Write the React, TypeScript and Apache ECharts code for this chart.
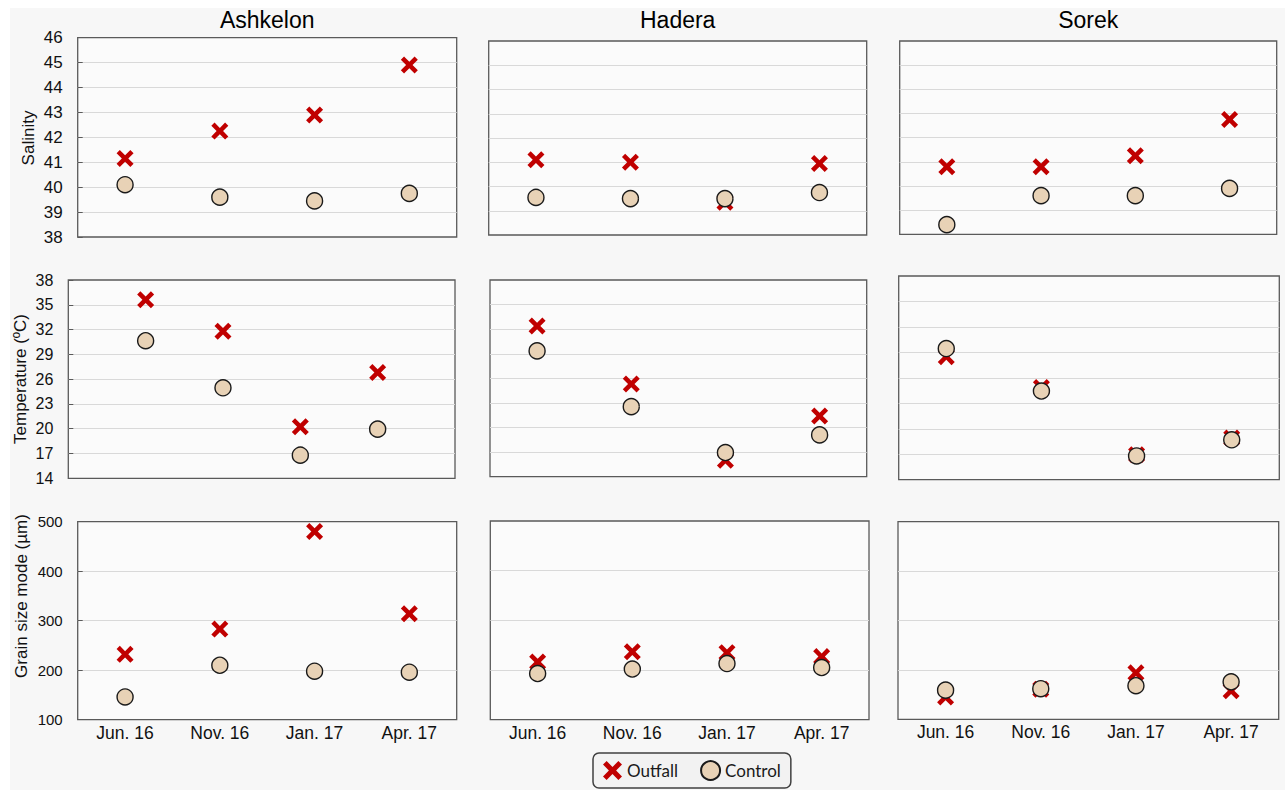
import React, { useEffect, useRef } from 'react';
import * as echarts from 'echarts';

// Sampling campaigns and sites
const categories = ['Jun. 16', 'Nov. 16', 'Jan. 17', 'Apr. 17'];
const sites = ['Ashkelon', 'Hadera', 'Sorek'];

// Salinity
const ashkelonSalinityOutfall = [41.15, 42.25, 42.9, 44.9];
const ashkelonSalinityControl = [40.1, 39.6, 39.45, 39.75];
const haderaSalinityOutfall = [41.1, 41.0, 39.35, 40.95];
const haderaSalinityControl = [39.55, 39.5, 39.5, 39.75];
const sorekSalinityOutfall = [40.8, 40.8, 41.25, 42.75];
const sorekSalinityControl = [38.4, 39.6, 39.6, 39.9];

// Temperature (ºC)
const ashkelonTempOutfall = [35.6, 31.8, 20.25, 26.8];
const ashkelonTempControl = [30.65, 24.95, 16.8, 19.95];
const haderaTempOutfall = [32.4, 25.3, 16.0, 21.4];
const haderaTempControl = [29.35, 22.55, 16.95, 19.1];
const sorekTempOutfall = [28.5, 24.85, 16.95, 18.9];
const sorekTempControl = [29.45, 24.45, 16.8, 18.7];

// Grain size mode (µm)
const ashkelonGrainOutfall = [232, 283, 480, 314];
const ashkelonGrainControl = [146, 210, 198, 196];
const haderaGrainOutfall = [216, 237, 235, 227];
const haderaGrainControl = [193, 202, 213, 205];
const sorekGrainOutfall = [145, 161, 194, 158];
const sorekGrainControl = [159, 162, 168, 176];

// Tick labels
const temperatureTicks = [14, 17, 20, 23, 26, 29, 32, 35, 38];

const FONT = 'Liberation Sans, Arial, sans-serif';
const CROSS =
  'path://M0,1.9L1.9,0L5,3.1L8.1,0L10,1.9L6.9,5L10,8.1L8.1,10L5,6.9L1.9,10L0,8.1L3.1,5Z';

type Row = {
  name: string;
  nameX: number;
  nameY: number;
  min: number;
  max: number;
  interval?: number;
  customTicks?: number[];
  labelSize: number;
  outfall: number[][];
  control: number[][];
  boxes: number[][];
};

const rows: Row[] = [
  {
    name: 'Salinity',
    nameX: 28,
    nameY: 138,
    min: 38,
    max: 46,
    interval: 1,
    labelSize: 17,
    outfall: [ashkelonSalinityOutfall, haderaSalinityOutfall, sorekSalinityOutfall],
    control: [ashkelonSalinityControl, haderaSalinityControl, sorekSalinityControl],
    boxes: [
      [77.7, 37.7, 379, 199.3],
      [488.7, 41, 378, 194],
      [899.7, 41, 377, 193.3],
    ],
  },
  {
    name: 'Temperature (ºC)',
    nameX: 20,
    nameY: 379,
    min: 14,
    max: 38,
    customTicks: temperatureTicks,
    labelSize: 16,
    outfall: [ashkelonTempOutfall, haderaTempOutfall, sorekTempOutfall],
    control: [ashkelonTempControl, haderaTempControl, sorekTempControl],
    boxes: [
      [68.3, 280, 386.7, 198.3],
      [490, 280, 376.7, 196.7],
      [898.7, 276, 380.6, 203.7],
    ],
  },
  {
    name: 'Grain size mode (µm)',
    nameX: 21,
    nameY: 596,
    min: 100,
    max: 500,
    interval: 100,
    labelSize: 15,
    outfall: [ashkelonGrainOutfall, haderaGrainOutfall, sorekGrainOutfall],
    control: [ashkelonGrainControl, haderaGrainControl, sorekGrainControl],
    boxes: [
      [77.7, 521.7, 379, 198],
      [490.3, 521, 378.7, 198.7],
      [898, 521.7, 380.7, 197.6],
    ],
  },
];

function buildOption() {
  const grid: any[] = [];
  const xAxis: any[] = [];
  const yAxis: any[] = [];
  const series: any[] = [];
  const graphic: any[] = [];

  rows.forEach((row, r) => {
    row.boxes.forEach((box, c) => {
      const idx = grid.length;
      grid.push({
        left: box[0],
        top: box[1],
        width: box[2],
        height: box[3],
        show: true,
        backgroundColor: '#fbfbfb',
        borderColor: '#5a5a5a',
        borderWidth: 1.3,
        containLabel: false,
      });

      // The Ashkelon temperature panel spaces its campaigns on a 0–5 scale
      const spreadAxis = r === 1 && c === 0;
      if (spreadAxis) {
        xAxis.push({ type: 'value', gridIndex: idx, min: 0, max: 5, show: false });
      } else {
        xAxis.push({
          type: 'category',
          gridIndex: idx,
          data: categories,
          boundaryGap: true,
          axisLine: { show: false },
          axisTick: { show: false },
          splitLine: { show: false },
          axisLabel: {
            show: r === 2,
            fontSize: 17.5,
            fontFamily: FONT,
            color: '#111',
            margin: 4,
            interval: 0,
          },
        });
      }

      yAxis.push({
        type: 'value',
        gridIndex: idx,
        min: row.min,
        max: row.max,
        ...(row.interval ? { interval: row.interval } : {}),
        axisLine: { show: false },
        axisTick: {
          show: c === 0,
          inside: true,
          length: 5,
          lineStyle: { color: '#5a5a5a', width: 1 },
          ...(row.customTicks ? { customValues: row.customTicks } : {}),
        },
        axisLabel: {
          show: c === 0,
          fontSize: row.labelSize,
          fontFamily: FONT,
          color: '#111',
          margin: 15,
          ...(row.customTicks ? { customValues: row.customTicks } : {}),
        },
        splitLine: {
          show: true,
          showMinLine: false,
          showMaxLine: false,
          lineStyle: { color: '#d9d9d9', width: 1.2 },
        },
      });

      const toData = (vals: number[]) =>
        spreadAxis ? vals.map((v, k) => [k + 1, v]) : vals.slice();

      series.push({
        name: 'Outfall',
        type: 'scatter',
        xAxisIndex: idx,
        yAxisIndex: idx,
        data: toData(row.outfall[c]),
        symbol: CROSS,
        symbolSize: 17,
        itemStyle: { color: '#c00000', opacity: 1 },
        z: 2,
      });
      series.push({
        name: 'Control',
        type: 'scatter',
        xAxisIndex: idx,
        yAxisIndex: idx,
        data: toData(row.control[c]),
        symbol: 'circle',
        symbolSize: 16,
        itemStyle: { color: '#e8d2b6', borderColor: '#1a1a1a', borderWidth: 1.4, opacity: 1 },
        z: 3,
      });
    });

    graphic.push({
      type: 'text',
      x: row.nameX,
      y: row.nameY,
      rotation: Math.PI / 2,
      style: {
        text: row.name,
        fontSize: 17,
        fontFamily: FONT,
        fill: '#111',
        textAlign: 'center',
        textVerticalAlign: 'middle',
      },
    });
  });

  // Site titles above each column
  rows[0].boxes.forEach((box, c) => {
    graphic.push({
      type: 'text',
      x: box[0] + box[2] / 2,
      y: 20,
      style: {
        text: sites[c],
        fontSize: 23,
        fontFamily: FONT,
        fill: '#000',
        textAlign: 'center',
        textVerticalAlign: 'middle',
      },
    });
  });

  return {
    animation: false,
    grid,
    xAxis,
    yAxis,
    series,
    graphic,
    legend: {
      data: ['Outfall', 'Control'],
      left: 593,
      top: 753,
      padding: [7, 10],
      itemWidth: 19,
      itemHeight: 19,
      itemGap: 22,
      backgroundColor: '#f2f2f2',
      borderColor: '#404040',
      borderWidth: 1.5,
      borderRadius: 6,
      textStyle: { fontFamily: 'Lato, Open Sans, sans-serif', fontSize: 17, color: '#1a1a1a' },
    },
  };
}

export default function App() {
  const ref = useRef<HTMLDivElement>(null);

  useEffect(() => {
    if (!ref.current) return;
    const chart = echarts.init(ref.current, undefined, { renderer: 'svg' });
    chart.setOption(buildOption());
    return () => chart.dispose();
  }, []);

  return (
    <div style={{ position: 'fixed', left: 0, top: 0, width: 1285, height: 790, background: '#ffffff' }}>
      <div style={{ position: 'absolute', left: 10, top: 8, right: 0, bottom: 0, background: '#f7f7f7' }} />
      <div ref={ref} style={{ position: 'absolute', left: 0, top: 0, width: 1285, height: 790 }} />
    </div>
  );
}
